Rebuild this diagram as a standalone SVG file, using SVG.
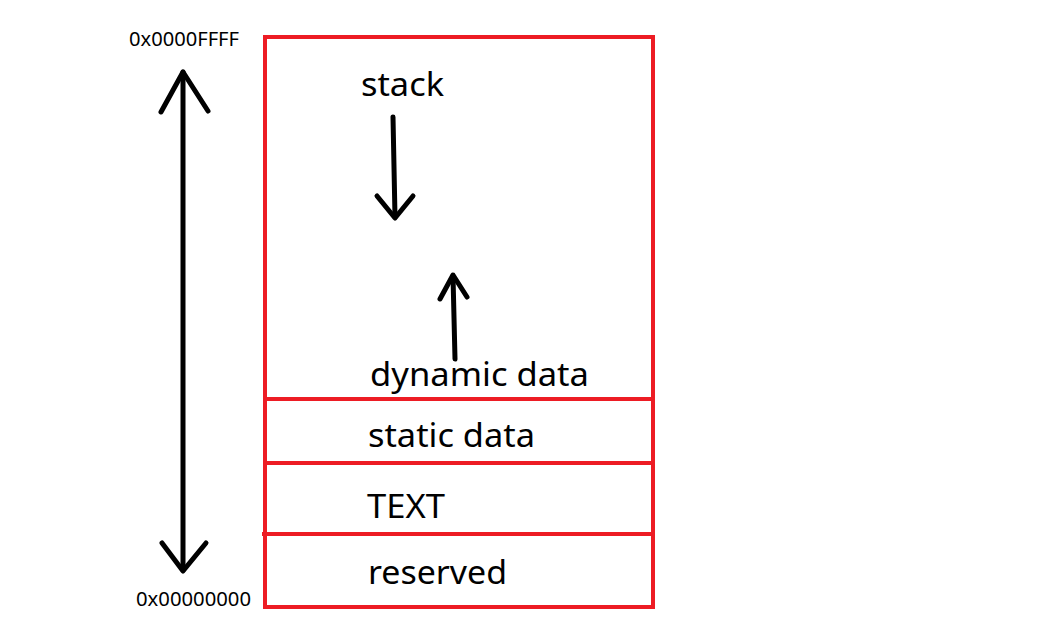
<svg xmlns="http://www.w3.org/2000/svg" width="1060" height="624" viewBox="0 0 1060 624">
<style>
.box{fill:none;stroke:#ED1C24;stroke-width:4}
.div{stroke:#ED1C24;stroke-width:4}
.pen{fill:none;stroke:#000;stroke-width:5;stroke-linecap:round;stroke-linejoin:round}
.lbl{font-family:"Noto Sans","Open Sans",sans-serif;font-size:32px;fill:#000}
.addr{font-family:"Noto Sans","Open Sans",sans-serif;font-size:19px;fill:#000}
</style>
<rect width="1060" height="624" fill="#fff"/>
<g id="memory">
<rect class="box" x="265" y="37" width="388" height="570"/>
</g>
<g id="dynamic">
<text class="lbl" x="370" y="386" textLength="219" lengthAdjust="spacingAndGlyphs">dynamic data</text>
<text class="lbl" x="361" y="96" textLength="83" lengthAdjust="spacingAndGlyphs">stack</text>
</g>
<g id="static">
<line class="div" x1="265" y1="399" x2="653" y2="399"/>
<text class="lbl" x="368" y="447" textLength="167" lengthAdjust="spacingAndGlyphs">static data</text>
</g>
<g id="text">
<line class="div" x1="265" y1="463" x2="653" y2="463"/>
<text class="lbl" x="367" y="518" textLength="78" lengthAdjust="spacingAndGlyphs">TEXT</text>
</g>
<g id="reserved">
<line class="div" x1="262" y1="534" x2="653" y2="534"/>
<text class="lbl" x="368" y="584" textLength="139" lengthAdjust="spacingAndGlyphs">reserved</text>
</g>
<g id="addr-high"><text class="addr" x="129" y="46" textLength="110" lengthAdjust="spacingAndGlyphs">0x0000FFFF</text></g>
<g id="addr-low"><text class="addr" x="136" y="606" textLength="115" lengthAdjust="spacingAndGlyphs">0x00000000</text></g>
<g id="connectors">
<path class="pen" d="M183 72 L183 570"/>
<path class="pen" d="M161 112 L183 72 L208 111"/>
<path class="pen" d="M162 543 L183 571 L206 543"/>
<path class="pen" d="M393 117 L395 217"/>
<path class="pen" d="M377 196 L395 218 L413 196"/>
<path class="pen" d="M455 359 L453 276"/>
<path class="pen" d="M440 299 L453 275 L467 297"/>
</g>
</svg>
